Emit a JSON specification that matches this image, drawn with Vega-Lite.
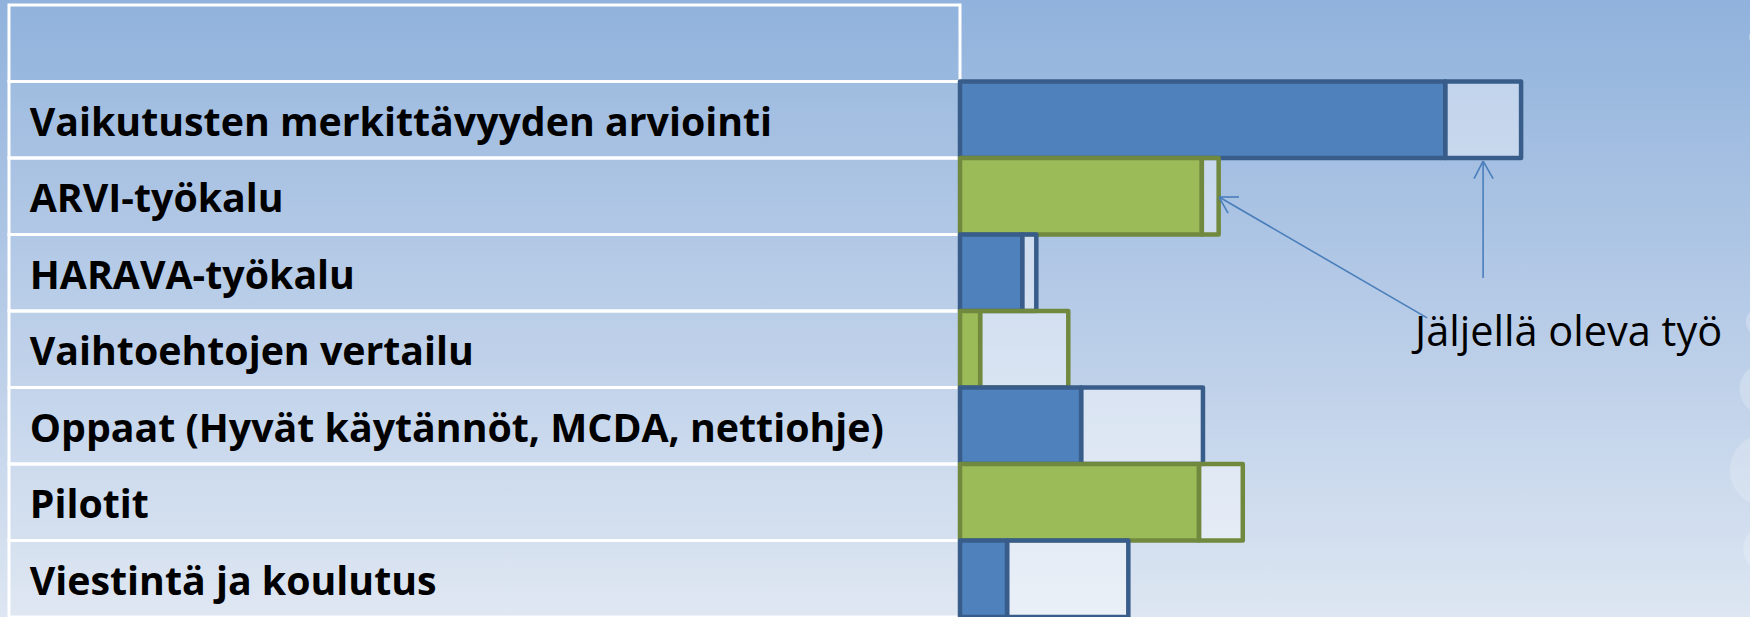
{
  "$schema": "https://vega.github.io/schema/vega-lite/v6.json",
  "width": 1750,
  "height": 617,
  "autosize": "none",
  "padding": 0,
  "background": "#b8cde8",
  "config": {"view": {"stroke": null}},
  "datasets": {
    "tyo": [
      {"tehtava": "Vaikutusten merkittävyyden arviointi", "ryhma": "sininen", "tila": "valmis", "arvo": 86.5},
      {"tehtava": "Vaikutusten merkittävyyden arviointi", "ryhma": "sininen", "tila": "jäljellä", "arvo": 13.5},
      {"tehtava": "ARVI-työkalu", "ryhma": "vihreä", "tila": "valmis", "arvo": 43.1},
      {"tehtava": "ARVI-työkalu", "ryhma": "vihreä", "tila": "jäljellä", "arvo": 3.0},
      {"tehtava": "HARAVA-työkalu", "ryhma": "sininen", "tila": "valmis", "arvo": 11.1},
      {"tehtava": "HARAVA-työkalu", "ryhma": "sininen", "tila": "jäljellä", "arvo": 2.5},
      {"tehtava": "Vaihtoehtojen vertailu", "ryhma": "vihreä", "tila": "valmis", "arvo": 3.6},
      {"tehtava": "Vaihtoehtojen vertailu", "ryhma": "vihreä", "tila": "jäljellä", "arvo": 15.7},
      {"tehtava": "Oppaat (Hyvät käytännöt, MCDA, nettiohje)", "ryhma": "sininen", "tila": "valmis", "arvo": 21.6},
      {"tehtava": "Oppaat (Hyvät käytännöt, MCDA, nettiohje)", "ryhma": "sininen", "tila": "jäljellä", "arvo": 21.7},
      {"tehtava": "Pilotit", "ryhma": "vihreä", "tila": "valmis", "arvo": 42.6},
      {"tehtava": "Pilotit", "ryhma": "vihreä", "tila": "jäljellä", "arvo": 7.8},
      {"tehtava": "Viestintä ja koulutus", "ryhma": "sininen", "tila": "valmis", "arvo": 8.4},
      {"tehtava": "Viestintä ja koulutus", "ryhma": "sininen", "tila": "jäljellä", "arvo": 21.6}
    ]
  },
  "data": {"name": "tyo"},
  "resolve": {"scale": {"y": "independent"}},
  "layer": [
    {
      "data": {"values": [{}]},
      "mark": {"type": "rect", "fill": {"gradient": "linear", "x1": 0, "y1": 0, "x2": 0, "y2": 1, "stops": [{"offset": 0, "color": "#90b2dc"}, {"offset": 0.5, "color": "#b6cbe7"}, {"offset": 1, "color": "#dde6f2"}]}},
      "encoding": {
        "x": {"datum": -171.1, "type": "quantitative", "scale": {"domain": [-171.1, 140.8], "nice": false, "zero": false}, "axis": null},
        "x2": {"datum": 140.8},
        "y": {"datum": -0.0654, "type": "quantitative", "scale": {"domain": [-0.0654, 8], "nice": false, "zero": false, "reverse": true}, "axis": null},
        "y2": {"datum": 8}
      }
    },
    {
      "layer": [
        {
          "transform": [{"filter": "datum.tila === 'valmis'"}],
          "mark": {"type": "bar", "fill": "#ffffff", "fillOpacity": 0.06, "stroke": "#ffffff", "strokeWidth": 3},
          "encoding": {
            "y": {"field": "tehtava", "type": "nominal", "sort": null, "axis": null,
              "scale": {"domain": [" ", "Vaikutusten merkittävyyden arviointi", "ARVI-työkalu", "HARAVA-työkalu", "Vaihtoehtojen vertailu", "Oppaat (Hyvät käytännöt, MCDA, nettiohje)", "Pilotit", "Viestintä ja koulutus"], "paddingInner": 0, "paddingOuter": 0.0327, "align": 1}},
            "x": {"datum": -169.5, "type": "quantitative"},
            "x2": {"datum": 0}
          }
        },
        {
          "data": {"values": [{}]},
          "mark": {"type": "bar", "fill": "#ffffff", "fillOpacity": 0.0, "stroke": "#ffffff", "strokeWidth": 3},
          "encoding": {
            "y": {"datum": " ", "type": "nominal"},
            "x": {"datum": -169.5, "type": "quantitative"},
            "x2": {"datum": 0}
          }
        },
        {
          "transform": [{"filter": "datum.tila === 'valmis'"}],
          "mark": {"type": "text", "align": "left", "baseline": "middle", "dy": 4, "font": "Open Sans", "fontWeight": "bold", "fontSize": 39.3, "color": "#000000"},
          "encoding": {
            "y": {"field": "tehtava", "type": "nominal"},
            "x": {"datum": -165.8, "type": "quantitative"},
            "text": {"field": "tehtava"}
          }
        },
        {
          "mark": {"type": "bar", "strokeWidth": 4.5, "strokeJoin": "round"},
          "encoding": {
            "y": {"field": "tehtava", "type": "nominal"},
            "x": {"field": "arvo", "type": "quantitative", "stack": "zero"},
            "order": {"field": "tila", "sort": "descending"},
            "detail": {"field": "tila"},
            "fill": {
              "condition": {"test": "datum.tila === 'jäljellä'", "value": "#ffffff"},
              "field": "ryhma", "type": "nominal",
              "scale": {"domain": ["sininen", "vihreä"], "range": ["#4f81bd", "#9bbb59"]}, "legend": null
            },
            "fillOpacity": {"condition": {"test": "datum.tila === 'jäljellä'", "value": 0.4}, "value": 1},
            "stroke": {"field": "ryhma", "type": "nominal", "scale": {"domain": ["sininen", "vihreä"], "range": ["#385d8a", "#71893f"]}, "legend": null}
          }
        }
      ]
    },
    {
      "layer": [
        {
          "data": {"values": [{}]},
          "mark": {"type": "circle", "color": "#ffffff", "opacity": 0.55},
          "encoding": {"x": {"datum": 142.25, "type": "quantitative"}, "y": {"datum": 0.418, "type": "quantitative", "scale": {"domain": [-0.0654, 8], "nice": false, "zero": false, "reverse": true}, "axis": null}, "size": {"value": 314}}
        },
        {
          "data": {"values": [{}]},
          "mark": {"type": "circle", "color": "#ffffff", "opacity": 0.3},
          "encoding": {"x": {"datum": 142.25, "type": "quantitative"}, "y": {"datum": 3.425, "type": "quantitative"}, "size": {"value": 254}}
        },
        {
          "data": {"values": [{}]},
          "mark": {"type": "circle", "color": "#ffffff", "opacity": 0.25},
          "encoding": {"x": {"datum": 142.6, "type": "quantitative"}, "y": {"datum": 4.144, "type": "quantitative"}, "size": {"value": 800}}
        },
        {
          "data": {"values": [{}]},
          "mark": {"type": "circle", "color": "#ffffff", "opacity": 0.22},
          "encoding": {"x": {"datum": 143.5, "type": "quantitative"}, "y": {"datum": 5.02, "type": "quantitative"}, "size": {"value": 2640}}
        },
        {
          "data": {"values": [{}]},
          "mark": {"type": "circle", "color": "#ffffff", "opacity": 0.2},
          "encoding": {"x": {"datum": 143.67, "type": "quantitative"}, "y": {"datum": 6.08, "type": "quantitative"}, "size": {"value": 5280}}
        },
        {
          "data": {"values": [{}]},
          "mark": {"type": "circle", "color": "#ffffff", "opacity": 0.2},
          "encoding": {"x": {"datum": 143.67, "type": "quantitative"}, "y": {"datum": 7.11, "type": "quantitative"}, "size": {"value": 2120}}
        },
        {
          "data": {"values": [{}]},
          "mark": {"type": "rule", "color": "#4a7ebb", "strokeWidth": 1.6},
          "encoding": {
            "x": {"datum": 83.24, "type": "quantitative"}, "x2": {"datum": 46.17},
            "y": {"datum": 4.09, "type": "quantitative"}, "y2": {"datum": 2.51}
          }
        },
        {
          "data": {"values": [{}]},
          "mark": {"type": "rule", "color": "#4a7ebb", "strokeWidth": 1.6},
          "encoding": {"x": {"datum": 46.17, "type": "quantitative"}, "x2": {"datum": 49.73}, "y": {"datum": 2.51, "type": "quantitative"}, "y2": {"datum": 2.51}}
        },
        {
          "data": {"values": [{}]},
          "mark": {"type": "rule", "color": "#4a7ebb", "strokeWidth": 1.6},
          "encoding": {"x": {"datum": 46.17, "type": "quantitative"}, "x2": {"datum": 47.77}, "y": {"datum": 2.51, "type": "quantitative"}, "y2": {"datum": 2.72}}
        },
        {
          "data": {"values": [{}]},
          "mark": {"type": "rule", "color": "#4a7ebb", "strokeWidth": 1.6},
          "encoding": {"x": {"datum": 93.23, "type": "quantitative"}, "x2": {"datum": 93.23}, "y": {"datum": 3.57, "type": "quantitative"}, "y2": {"datum": 2.04}}
        },
        {
          "data": {"values": [{}]},
          "mark": {"type": "rule", "color": "#4a7ebb", "strokeWidth": 1.6},
          "encoding": {"x": {"datum": 93.23, "type": "quantitative"}, "x2": {"datum": 91.62}, "y": {"datum": 2.04, "type": "quantitative"}, "y2": {"datum": 2.27}}
        },
        {
          "data": {"values": [{}]},
          "mark": {"type": "rule", "color": "#4a7ebb", "strokeWidth": 1.6},
          "encoding": {"x": {"datum": 93.23, "type": "quantitative"}, "x2": {"datum": 95.01}, "y": {"datum": 2.04, "type": "quantitative"}, "y2": {"datum": 2.27}}
        },
        {
          "data": {"values": [{}]},
          "mark": {"type": "text", "align": "left", "baseline": "alphabetic", "font": "Open Sans", "fontSize": 41.5, "color": "#000000"},
          "encoding": {"x": {"datum": 81.1, "type": "quantitative"}, "y": {"datum": 4.46, "type": "quantitative"}, "text": {"value": "Jäljellä oleva työ"}}
        }
      ]
    }
  ]
}
